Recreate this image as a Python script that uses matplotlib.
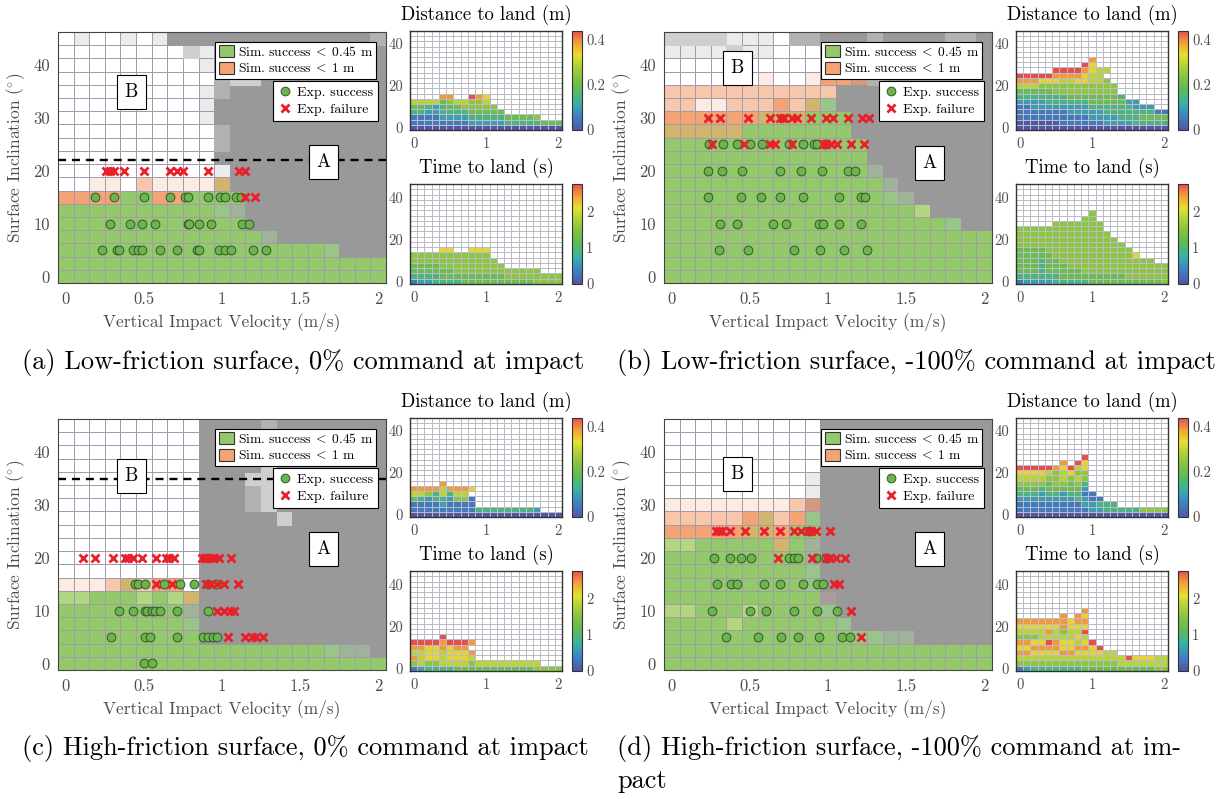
import numpy as np
import matplotlib
matplotlib.use('Agg')
import matplotlib.pyplot as plt
from matplotlib.colors import LinearSegmentedColormap, ListedColormap, to_rgb
from matplotlib.patches import Patch
from matplotlib.lines import Line2D

plt.rcParams['font.family'] = ['cmr10', 'DejaVu Serif']
plt.rcParams['mathtext.fontset'] = 'cm'
plt.rcParams['axes.formatter.use_mathtext'] = True

W, H = 1221, 799
NCOL, NROW = 21, 19
x_edges = np.arange(NCOL + 1) * 0.1 - 0.05
y_edges = np.arange(NROW + 1) * 2.5 - 1.25

# cell categories of the main maps
CELL = {
    'G': '#93c96b',  # sim success < 0.45 m
    'O': '#f4a474',  # sim success < 1 m
    'o': '#f8c6aa',
    'p': '#fcebe2',
    'W': '#ffffff',
    'e': '#ebebeb',
    'l': '#cfcfcf',
    'm': '#b2b2b2',
    'D': '#999999',
    'g': '#99c48a',
    'h': '#9fb39a',
    't': '#d1b56c',
    'y': '#b3d680',
    'r': '#d59a7e',
    'k': '#a89c9c',
}
NOLINE = 'Dml'

# main maps, rows from 45 deg (top) down to 0 deg
grid_a = [
    "WeWWeWeDDDDDDDDDDDDDm",
    "WWWWWWWWleDDDDDDDDDDD",
    "WWWWWWWWWeDDDDDDDDDDD",
    "WWWWWWWWWWmllDDDDDDDD",
    "WWWWWWWWWemDDDDDDDDDD",
    "WWWWWWWWWeDDDDDDDDDDD",
    "WWWWWWWWWeDDDDDDDDDDD",
    "WWWWWWWWWWmDDDDDDDDDD",
    "WWWWWWWWWWmDDDDDDDDDD",
    "WWWWWWWWWWDDDDDDDDDDD",
    "WWWWWWWWWWeDDDDDDDDDD",
    "WWppWopppptDDDDDDDDDD",
    "OOOOGGOOGGGGDDDDDDDDD",
    "GGGGGGGGGGghDDDDDDDDD",
    "GGGGGGGGGGGGDDDDDDDDD",
    "GGGGGGGGGGGGGhDDDDDDD",
    "GGGGGGGGGGGGGGGGGgDDD",
    "GGGGGGGGGGGGGGGGGGGGG",
    "GGGGGGGGGGGGGGGGGGGGG",
]
grid_b = [
    "lllleeeWmmDDDmDDDDmmD",
    "eeeeleeWWWDDDDDDDDDDD",
    "WWWWWWWWWWWDDDDDDDDDD",
    "WWWWWWpWWpOOrmDDDDDDD",
    "oooooooooooDDDDDDDDDD",
    "ooppoooOotgDDDDDDDDDD",
    "OOOOOOtttGGGDDDDDDDDD",
    "tttttGGGGGGGDDDDDDDDD",
    "GGGGGGGGGGGGGDDDDDDDD",
    "GGGGGGGGGGGGGDDDDDDDD",
    "GGGGGGGGGGGGGhDDDDDDD",
    "GGGGGGGGGGGGGGhDDDDDD",
    "GGGGGGGGGGGGGGghDDDDD",
    "GGGGGGGGGGGGGGGGyDDDD",
    "GGGGGGGGGGGGGGGGGGgDD",
    "GGGGGGGGGGGGGGGGGGGGG",
    "GGGGGGGGGGGGGGGGGGGGG",
    "GGGGGGGGGGGGGGGGGGGGG",
    "GGGGGGGGGGGGGGGGGGGGG",
]
grid_c = [
    "WWWWWWWWWDDDDmDDDDDDD",
    "WWWWWWWWWDDDDDDDDDDDD",
    "WWWWWWWWWDDDDDDDDDDDD",
    "WWWWWWWWWDDDDlDDDDDDD",
    "WWWWWWWWWDDDllDDDDDDD",
    "WWWWWWWWWDDDmlDDDDDDD",
    "WWWWWWWWWDDDmlDDDDDDD",
    "WWWWWWWWWDDDDDlDDDDDD",
    "WWWWWWWWWDDDDDDDDDDDD",
    "WWWWWWWWWDDDDDDDDDDDD",
    "WWWWWWWWWDDDDDDDDDDDD",
    "WWWWWWWWWDDDDDDDDDDDD",
    "pppotoOOWDDDDDDDDDDDD",
    "yyGGGyGytDDDDDDDDDDDD",
    "GGGGGGGGhDDDDDDDDDDDD",
    "GGGGGGGGgDDDDDDDDDDDD",
    "GGGGGGGGGDDDDDDDDDDDD",
    "GGGGGGGGGGGGGGGGGghhD",
    "GGGGGGGGGGGGGGGGGGGGG",
]
grid_d = [
    "WWWWWWWWWWDDDDDDDDDDD",
    "WWWWWWWWWWDDDDDDDDDDD",
    "WWWWWWWWWWDDDDDDDDDDD",
    "WWWWWWWWWWDDDDDDDDDDD",
    "WWWWWWWWWeDDDDDDDDDDD",
    "WWWWWWWWWeDDDDDDDDDDD",
    "pppppppporDDDDDDDDDDD",
    "oooooOtoOgDDDDDDDDDDD",
    "OOOOOttOGGDDDDDDDDDDD",
    "yyGGGGGtGhDDDDDDDDDDD",
    "GGGGGGGGGhDDDDDDDDDDD",
    "GGGGGGGGGgDDDDDDDDDDD",
    "GGGGGGGGGgDDDDDDDDDDD",
    "GGGGGGGGGGkDDDDDDDDDD",
    "yyGGGyGGGGgDDDDDDDDDD",
    "GGGGyGGGGGGgDDDDDDDDD",
    "GGGGGGGGGGGGgghhDDDDD",
    "GGGGGGGGGGGGGGGGGGGGG",
    "GGGGGGGGGGGGGGGGGGGGG",
]

# experiments: inclination -> impact velocities
succ_a = {5: [0.23, 0.33, 0.34, 0.43, 0.46, 0.49, 0.60, 0.71, 0.84, 0.85, 0.98, 1.02, 1.06, 1.20, 1.28],
          10: [0.28, 0.41, 0.49, 0.57, 0.78, 0.79, 0.85, 0.93, 1.13, 1.17],
          15: [0.19, 0.31, 0.50, 0.67, 0.76, 0.78, 0.91, 0.99, 1.02, 1.09, 1.12]}
fail_a = {15: [1.15, 1.21],
          20: [0.26, 0.28, 0.31, 0.37, 0.50, 0.67, 0.71, 0.75, 0.91, 1.11, 1.15]}
succ_b = {5: [0.30, 0.49, 0.78, 0.95, 1.10, 1.25],
          10: [0.31, 0.42, 0.65, 0.73, 0.94, 0.97, 1.07, 1.21],
          15: [0.23, 0.44, 0.57, 0.69, 0.84, 1.07, 1.21, 1.24],
          20: [0.23, 0.32, 0.45, 0.69, 0.83, 0.96, 1.13, 1.17],
          25: [0.24, 0.33, 0.42, 0.50, 0.58, 0.75, 0.84, 0.91, 0.93, 0.98]}
fail_b = {25: [0.26, 0.46, 0.63, 0.66, 0.77, 0.97, 0.99, 1.02, 1.06, 1.15, 1.23],
          30: [0.23, 0.31, 0.49, 0.63, 0.69, 0.71, 0.72, 0.77, 0.80, 0.89, 0.99, 1.03, 1.13, 1.22, 1.26]}
succ_c = {0: [0.50, 0.55],
          5: [0.29, 0.51, 0.54, 0.71, 0.88, 0.91, 0.94, 0.97],
          10: [0.34, 0.43, 0.51, 0.52, 0.55, 0.57, 0.60, 0.71, 0.91],
          15: [0.44, 0.46, 0.51, 0.63, 0.73, 0.82, 0.91, 0.96]}
fail_c = {5: [1.04, 1.15, 1.19, 1.22, 1.26],
          10: [0.97, 1.01, 1.05, 1.08],
          15: [0.58, 0.68, 0.90, 0.93, 0.97, 1.01, 1.10],
          20: [0.11, 0.19, 0.30, 0.38, 0.40, 0.43, 0.49, 0.58, 0.64, 0.66, 0.69,
               0.87, 0.89, 0.90, 0.92, 0.95, 0.98, 1.06]}
succ_d = {5: [0.35, 0.55, 0.70, 0.81, 0.94, 1.09, 1.14],
          10: [0.26, 0.50, 0.60, 0.78, 0.93, 1.06],
          15: [0.29, 0.38, 0.42, 0.59, 0.69, 0.84, 0.93, 0.97],
          20: [0.27, 0.37, 0.44, 0.51, 0.75, 0.78, 0.81, 0.92, 0.99],
          25: [0.88]}
fail_d = {5: [1.21],
          10: [1.15],
          15: [1.04, 1.07],
          20: [0.68, 0.90, 0.99, 1.01, 1.05, 1.11],
          25: [0.28, 0.30, 0.32, 0.37, 0.47, 0.59, 0.69, 0.78, 0.83, 0.87, 0.89, 0.92, 1.01]}

# small maps: digit 0-9 = fraction of colour range, rows top -> 0 deg
DIST_MAX, TIME_MAX = 0.44, 2.75
dist_a = ["....88..987", "66664566556", "443234455555", "3322333344444",
          "111122223333344445", "111111112222233333444", "000000000000000000000"]
time_a = ["....77..777", "55555555555", "555555555555", "4444555555555",
          "444444555555555555", "333344444444455555555", "122333344444444445555"]
dist_b = ["..........8", ".........97", ".....99998766", "999998888766",
          "8887776677665", "66655555555555", "44444555555555", "333333344444443",
          "22223333334444422", "1122222222333333222", "111111122222333333311",
          "111111111122223334444", "000000111111222233333", "000000000000000000000"]
time_b = ["..........5", ".........55", ".....5555555", "555555555555",
          "5555555555555", "55555555555555", "555555555555555", "4444555555555555",
          "44444555555555557", "4443445555555555555", "444344455555555555555",
          "444344444555555555555", "333333444444444555555", "122223333344444444445"]
dist_c = ["....8", "888868887", "66536366", "432332551", "111121111",
          "111111111333333332", "000000000000000000000"]
time_c = ["....9", "999989998", "88778788", "667767778", "867767776",
          "565566665666666666", "123333444444444445555"]
dist_d = [".........9", "......8.97", "9999987967", "7777656755", "6666556565",
          "5555455453", "4443444442", "33323323311", "222222223211", "11111111122333",
          "111111111122333335555", "000000000000000000000"]
time_d = [".........8", "......8.87", "8888888788", "7777778777", "6666865669",
          "5556666676", "88779877679", "778888778879", "88777788777766",
          "666666666666666977766", "555555555555556666666", "123333333444444444455"]

captions = ["(a) Low-friction surface, 0% command at impact",
            "(b) Low-friction surface, -100% command at impact",
            "(c) High-friction surface, 0% command at impact",
            "(d) High-friction surface, -100% command at im-"]

CMAP = LinearSegmentedColormap.from_list('land', [
    (0.0, '#5356a4'), (0.13, '#3f7fc4'), (0.27, '#39b0a8'), (0.4, '#5cba5a'),
    (0.52, '#7fc142'), (0.63, '#a8cf3c'), (0.76, '#e6df2e'), (0.88, '#f4a038'),
    (1.0, '#e84e4e')])
GRID = '#a09cab'
SGRID = '#bcbcc4'
TXT = '#4d4d4d'


def box(l, t, r, b):
    return [l / W, 1 - b / H, (r - l) / W, (b - t) / H]


def main_panel(ax, rows, succ, fail, dash_y, pos_b, pos_a):
    rows = [(r + 'D' * NCOL)[:NCOL] for r in rows][::-1]
    rgb = np.array([[to_rgb(CELL[c]) for c in r] for r in rows])
    alpha = np.array([[1.0 if c in NOLINE else 0.0 for c in r] for r in rows])
    ax.pcolormesh(x_edges, y_edges, rgb, edgecolors=GRID, linewidth=0.5)
    ax.pcolormesh(x_edges, y_edges, np.dstack([rgb, alpha]), edgecolors='face', linewidth=0.5)
    for yv, xs in succ.items():
        ax.plot(xs, [yv] * len(xs), 'o', ms=6.3, mfc='#6db34f', mec='#2f5a22', mew=0.7, zorder=5)
    for yv, xs in fail.items():
        ax.plot(xs, [yv] * len(xs), 'x', ms=5.5, mec='#e8202a', mew=2.0, zorder=5)
    if dash_y is not None:
        ax.axhline(dash_y, color='black', lw=1.7, ls=(0, (3.4, 2.5)), zorder=4)
    bb = dict(boxstyle='square,pad=0.42', fc='white', ec='black', lw=0.8)
    ax.text(pos_b[0], pos_b[1], 'B', ha='center', va='center', fontsize=13.5, bbox=bb, zorder=6)
    ax.text(pos_a[0], pos_a[1], 'A', ha='center', va='center', fontsize=13.5, bbox=bb, zorder=6)
    ax.set_xlim(-0.05, 2.05)
    ax.set_ylim(-1.25, 46.25)
    ax.set_xticks([0, 0.5, 1, 1.5, 2], ['0', '0.5', '1', '1.5', '2'])
    ax.set_yticks([0, 10, 20, 30, 40], ['0', '10', '20', '30', '40'])
    ax.tick_params(labelsize=12, colors=TXT, length=0, pad=6)
    ax.set_xlabel('Vertical Impact Velocity (m/s)', fontsize=12.5, color=TXT, labelpad=4)
    ax.set_ylabel(r'Surface Inclination ($^{\circ}$)', fontsize=12.5, color=TXT, labelpad=4)
    for s in ax.spines.values():
        s.set_color('#444444')
        s.set_linewidth(0.8)
    h1 = [Patch(fc=CELL['G'], ec='#333333', lw=0.8), Patch(fc=CELL['O'], ec='#333333', lw=0.8)]
    leg1 = ax.legend(h1, [r'Sim. success$\;<\;$0.45 m', r'Sim. success$\;<\;$1 m'],
                     loc='upper left', bbox_to_anchor=(0.48, 0.962), fontsize=9.7,
                     fancybox=False, edgecolor='black', framealpha=1, borderpad=0.25,
                     handlelength=1.1, handleheight=1.0, handletextpad=0.3, labelspacing=0.2,
                     borderaxespad=0)
    leg1.get_frame().set_linewidth(0.8)
    ax.add_artist(leg1)
    h2 = [Line2D([], [], ls='', marker='o', ms=6.3, mfc='#6db34f', mec='#2f5a22', mew=0.7),
          Line2D([], [], ls='', marker='x', ms=5.5, mec='#e8202a', mew=2.0)]
    leg2 = ax.legend(h2, ['Exp. success', 'Exp. failure'], loc='upper left',
                     bbox_to_anchor=(0.655, 0.805), fontsize=10, fancybox=False,
                     edgecolor='black', framealpha=1, borderpad=0.35, handlelength=1.0,
                     handletextpad=0.4, labelspacing=0.35, borderaxespad=0)
    leg2.get_frame().set_linewidth(0.8)


def small_panel(fig, ax, cax, rows, vmax, ticks):
    rows = [(r + '.' * NCOL)[:NCOL] for r in rows][::-1]
    vals = np.full((NROW, NCOL), np.nan)
    for i, r in enumerate(rows):
        for j, c in enumerate(r):
            if c != '.':
                vals[i, j] = int(c) / 9 * vmax
    ax.pcolormesh(x_edges, y_edges, np.zeros((NROW, NCOL)), cmap=ListedColormap(['white']),
                  edgecolors=SGRID, linewidth=0.6)
    m = ax.pcolormesh(x_edges, y_edges, np.ma.masked_invalid(vals), cmap=CMAP, vmin=0,
                      vmax=vmax, edgecolors=SGRID, linewidth=0.6)
    ax.set_xlim(-0.05, 2.05)
    ax.set_ylim(-1.25, 46.25)
    ax.set_xticks([0, 1, 2], ['0', '1', '2'])
    ax.set_yticks([0, 20, 40], ['0', '20', '40'])
    ax.tick_params(labelsize=10.5, colors=TXT, length=0, pad=5)
    for s in ax.spines.values():
        s.set_color('#333333')
        s.set_linewidth(1.0)
    cb = fig.colorbar(m, cax=cax, ticks=ticks)
    cb.ax.set_yticklabels([('%g' % t) for t in ticks])
    cb.ax.tick_params(labelsize=10.5, colors=TXT, length=0, pad=3)
    cb.outline.set_edgecolor('#333333')
    cb.outline.set_linewidth(0.8)


fig = plt.figure(figsize=(W / 100, H / 100), dpi=100)

panels = [
    (0, 0, grid_a, succ_a, fail_a, 22.0, (0.42, 34.9), (1.65, 21.7), dist_a, time_a),
    (606, 0, grid_b, succ_b, fail_b, None, (0.42, 39.5), (1.65, 21.4), dist_b, time_b),
    (0, 387, grid_c, succ_c, fail_c, 34.9, (0.42, 35.4), (1.65, 21.6), dist_c, time_c),
    (606, 387, grid_d, succ_d, fail_d, None, (0.42, 35.9), (1.65, 21.6), dist_d, time_d),
]

for k, (dx, dy, grid, succ, fail, dash_y, pb, pa, dist, tland) in enumerate(panels):
    ax = fig.add_axes(box(58 + dx, 32 + dy, 386 + dx, 283 + dy))
    main_panel(ax, grid, succ, fail, dash_y, pb, pa)

    ax1 = fig.add_axes(box(410 + dx, 31 + dy, 562 + dx, 130 + dy))
    cax1 = fig.add_axes(box(572 + dx, 31 + dy, 582 + dx, 130 + dy))
    small_panel(fig, ax1, cax1, dist, DIST_MAX, [0, 0.2, 0.4])
    ax2 = fig.add_axes(box(410 + dx, 184 + dy, 562 + dx, 284 + dy))
    cax2 = fig.add_axes(box(572 + dx, 184 + dy, 582 + dx, 284 + dy))
    small_panel(fig, ax2, cax2, tland, TIME_MAX, [0, 1, 2])

    fig.text((486 + dx) / W, 1 - (15 + dy) / H, 'Distance to land (m)', ha='center',
             va='center', fontsize=13.5)
    fig.text((486 + dx) / W, 1 - (168 + dy) / H, 'Time to land (s)', ha='center',
             va='center', fontsize=13.5)

    cap_x = 22 if dx == 0 else 617
    fig.text(cap_x / W, 1 - (362 + dy) / H, captions[k], ha='left', va='center', fontsize=19)

fig.text(617 / W, 1 - 781 / H, 'pact', ha='left', va='center', fontsize=19)

fig.savefig('out.png', dpi=100)
